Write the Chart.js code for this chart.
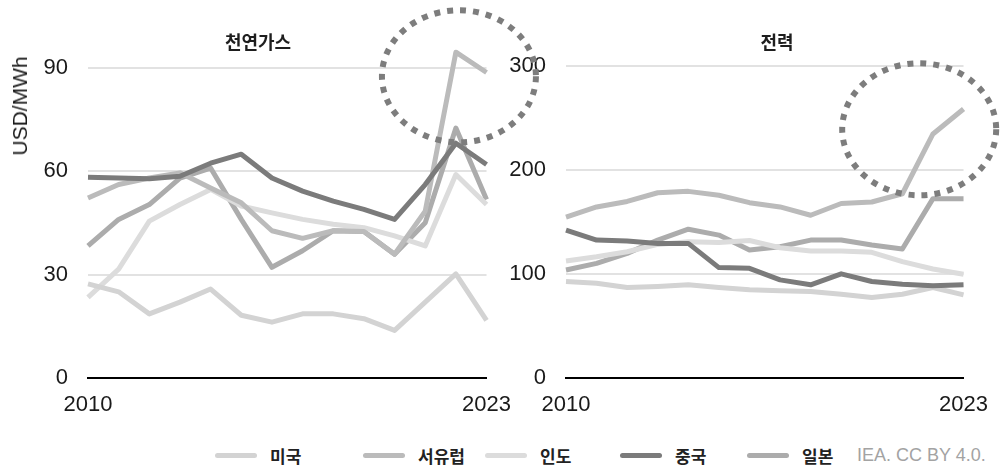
<!DOCTYPE html>
<html lang="ko">
<head>
<meta charset="utf-8">
<title>천연가스 및 전력 가격</title>
<script src="https://cdn.jsdelivr.net/npm/chart.js@4.4.1/dist/chart.umd.min.js"></script>
<style>
  html, body { margin: 0; padding: 0; background: #ffffff; }
  #wrap { position: relative; width: 1002px; height: 466px; overflow: hidden;
          font-family: 'Liberation Sans', Arial, sans-serif; }
  #wrap canvas { position: absolute; top: 0; }
  #gasCanvas { left: 0; }
  #powerCanvas { left: 495px; }
  #marks { left: 0; pointer-events: none; }
  .panel-title { position: absolute; top: 30px; line-height: 22px; transform: translateX(-50%);
                 font-family: 'Noto Sans CJK KR', sans-serif; font-weight: 700; font-size: 18px;
                 color: #1e1e1e; white-space: nowrap; }
  .unit { position: absolute; left: 20px; top: 106px; white-space: nowrap;
          transform: translate(-50%, -50%) rotate(-90deg);
          font-size: 21px; line-height: 24px; color: #1a1a1a; }
  .legend-item { position: absolute; top: 444px; height: 22px; display: flex; align-items: center; }
  .legend-swatch { width: 42px; height: 5px; border-radius: 2.5px; }
  .legend-label { margin-left: 13px; font-family: 'Noto Sans CJK KR', sans-serif; font-weight: 700;
                  font-size: 17px; color: #222222; white-space: nowrap; }
  .source { position: absolute; left: 857px; top: 444px; height: 22px; line-height: 22px;
            font-size: 18px; color: #a3a3a3; white-space: nowrap; }
</style>
</head>
<body>
<div id="wrap">
  <canvas id="gasCanvas" width="525" height="430"></canvas>
  <canvas id="powerCanvas" width="507" height="430"></canvas>
  <canvas id="marks" width="1002" height="430"></canvas>
  <div class="panel-title" style="left:258px">천연가스</div>
  <div class="panel-title" style="left:777px">전력</div>
  <div class="unit">USD/MWh</div>
  <div id="legend"></div>
  <div class="source">IEA. CC BY 4.0.</div>
</div>
<script>
// Years on the horizontal axis
const years = ['2010', '2011', '2012', '2013', '2014', '2015', '2016',
               '2017', '2018', '2019', '2020', '2021', '2022', '2023'];

// Regions and their line colours
const regions = ['미국', '서유럽', '인도', '중국', '일본'];
const regionColors = ['#d3d3d3', '#bbbbbb', '#dcdcdc', '#7b7b7b', '#acacac'];

// Natural gas prices, USD/MWh
const gasUS     = [27.3, 25.0, 18.6, 22.0, 25.8, 18.2, 16.2, 18.6, 18.6, 17.2, 13.8, 22.0, 30.2, 16.7];
const gasEurope = [52.2, 56.1, 58.0, 59.5, 55.1, 50.8, 42.7, 40.5, 42.7, 42.5, 35.9, 48.4, 94.5, 88.6];
const gasIndia  = [23.4, 31.6, 45.5, 50.3, 54.7, 49.9, 47.9, 46.0, 44.6, 43.6, 41.2, 38.3, 59.0, 50.3];
const gasChina  = [58.2, 58.0, 57.8, 58.5, 62.3, 64.9, 58.0, 54.2, 51.3, 48.9, 46.0, 56.1, 68.1, 61.9];
const gasJapan  = [38.3, 46.0, 50.3, 58.0, 60.9, 46.0, 32.1, 36.9, 42.7, 42.5, 35.9, 45.0, 72.5, 51.8];

// Electricity prices, USD/MWh
const powerUS     = [92.9, 91.3, 87.1, 88.1, 89.7, 87.1, 84.9, 84.0, 83.3, 80.7, 77.6, 80.7, 87.1, 80.1];
const powerEurope = [155.0, 164.7, 170.0, 178.4, 179.7, 176.0, 168.8, 164.7, 156.7, 168.0, 169.5, 177.4, 235.0, 259.0];
const powerIndia  = [112.7, 116.8, 121.6, 128.6, 131.2, 130.5, 132.4, 125.4, 122.3, 122.3, 121.0, 112.0, 105.0, 99.9];
const powerChina  = [142.4, 132.8, 131.9, 129.6, 129.6, 106.3, 105.6, 94.5, 89.7, 100.3, 92.9, 90.3, 88.8, 89.7];
const powerJapan  = [104.0, 110.4, 120.0, 132.8, 143.3, 137.6, 123.2, 126.4, 132.8, 132.8, 128.0, 124.2, 172.7, 172.7];

// Value-axis tick labels for each panel
const gasTicks = [0, 30, 60, 90];
const powerTicks = [0, 100, 200, 300];

const axisFont = { family: "'Liberation Sans', Arial, sans-serif", size: 22 };

function buildDatasets(seriesList) {
  return seriesList.map((values, i) => ({
    label: regions[i],
    data: values,
    borderColor: regionColors[i],
    backgroundColor: regionColors[i],
    order: regions[i] === '중국' ? -1 : i
  }));
}

function makePanel(canvasId, seriesList, tickValues, yMax, axisWidth, padRight) {
  return new Chart(document.getElementById(canvasId), {
    type: 'line',
    data: { labels: years, datasets: buildDatasets(seriesList) },
    options: {
      responsive: false,
      animation: false,
      devicePixelRatio: 1,
      layout: { padding: { top: 31, right: padRight, bottom: 12, left: 0 } },
      plugins: { legend: { display: false }, tooltip: { enabled: false }, title: { display: false } },
      elements: {
        line: { tension: 0, borderWidth: 5, borderJoinStyle: 'round', borderCapStyle: 'butt', fill: false },
        point: { radius: 0, hoverRadius: 0 }
      },
      scales: {
        x: {
          type: 'category',
          offset: false,
          grid: { display: false, drawTicks: false },
          border: { display: true, color: '#000000', width: 2 },
          ticks: {
            autoSkip: false, maxRotation: 0, padding: 14, color: '#1a1a1a', font: axisFont,
            callback: (v, i, arr) => (i === 0 || i === arr.length - 1) ? years[i] : ''
          },
          afterFit: (scale) => { scale.height = 40; }
        },
        y: {
          min: 0,
          max: yMax,
          afterBuildTicks: (scale) => { scale.ticks = tickValues.map(v => ({ value: v })); },
          grid: {
            drawTicks: false,
            lineWidth: 2,
            color: (ctx) => (ctx.tick && ctx.tick.value === 0) ? 'rgba(0,0,0,0)' : '#e2e2e2'
          },
          border: { display: false },
          ticks: { padding: 20, color: '#1a1a1a', font: axisFont },
          afterFit: (scale) => { scale.width = axisWidth; }
        }
      }
    }
  });
}

const gasChart = makePanel('gasCanvas', [gasUS, gasEurope, gasIndia, gasChina, gasJapan],
                           gasTicks, 100, 88, 37);
const powerChart = makePanel('powerCanvas', [powerUS, powerEurope, powerIndia, powerChina, powerJapan],
                             powerTicks, 332, 71, 35);

// Dotted rings around the 2022-2023 price jumps in Europe
const marks = document.getElementById('marks').getContext('2d');
function ring(chart, canvasLeft, atIndex, atValue, rx, ry) {
  const cx = canvasLeft + chart.scales.x.getPixelForValue(atIndex);
  const cy = chart.scales.y.getPixelForValue(atValue);
  marks.save();
  marks.strokeStyle = '#7d7d7d';
  marks.lineWidth = 6;
  marks.setLineDash([6, 7]);
  marks.beginPath();
  marks.ellipse(cx, cy, rx, ry, 0, 0, Math.PI * 2);
  marks.stroke();
  marks.restore();
}
ring(gasChart, 0, 12.1, 87.5, 77, 66);
ring(powerChart, 495, 11.55, 239.5, 77, 66);

// Legend built from the chart's datasets
const legendStarts = [215, 363, 485, 620, 747];
const legend = document.getElementById('legend');
gasChart.data.datasets.forEach((ds, i) => {
  const item = document.createElement('div');
  item.className = 'legend-item';
  item.style.left = legendStarts[i] + 'px';
  const sw = document.createElement('span');
  sw.className = 'legend-swatch';
  sw.style.background = ds.borderColor;
  const lb = document.createElement('span');
  lb.className = 'legend-label';
  lb.textContent = ds.label;
  item.appendChild(sw);
  item.appendChild(lb);
  legend.appendChild(item);
});
</script>
</body>
</html>
